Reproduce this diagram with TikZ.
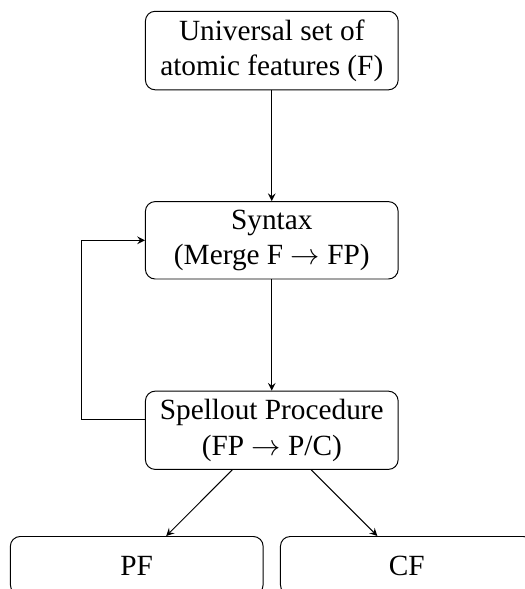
\documentclass[tikz,border=0pt]{standalone}
\usepackage{fontspec}
\setmainfont{Liberation Serif}

\begin{document}
\begin{tikzpicture}[x=1pt, y=1pt,
    font=\fontsize{12}{14.5}\selectfont,
    stage/.style={shape=rectangle, draw=black, rounded corners, align=center,
                  minimum width=103.5pt, minimum height=23.8pt}]
  \useasboundingbox (0,0) rectangle (214.6,-241.2);

  \node [stage] (univ) at (111.3,-20.7) {Universal set of\\atomic features (F)};
  \node [stage] (syntax) at (111.3,-98.4) {Syntax\\(Merge F $\rightarrow$ FP)};
  \node [stage] (spell) at (111.3,-176.2) {Spellout Procedure\\(FP $\rightarrow$ P/C)};

  \node [stage] (pf) at (56.0,-231.6) {PF};
  \node [stage] (cf) at (166.6,-231.6) {CF};


  \path [->,>=stealth] (univ) edge (syntax);
  \path [->,>=stealth] (syntax) edge (spell);
  \path [->,>=stealth] (spell) edge (pf);
  \path [->,>=stealth] (spell) edge (cf);

  \draw [->,>=stealth] ([yshift=4.5pt]spell.west) -- ++(-25.8,0) |- (syntax.west);
\end{tikzpicture}
\end{document}
